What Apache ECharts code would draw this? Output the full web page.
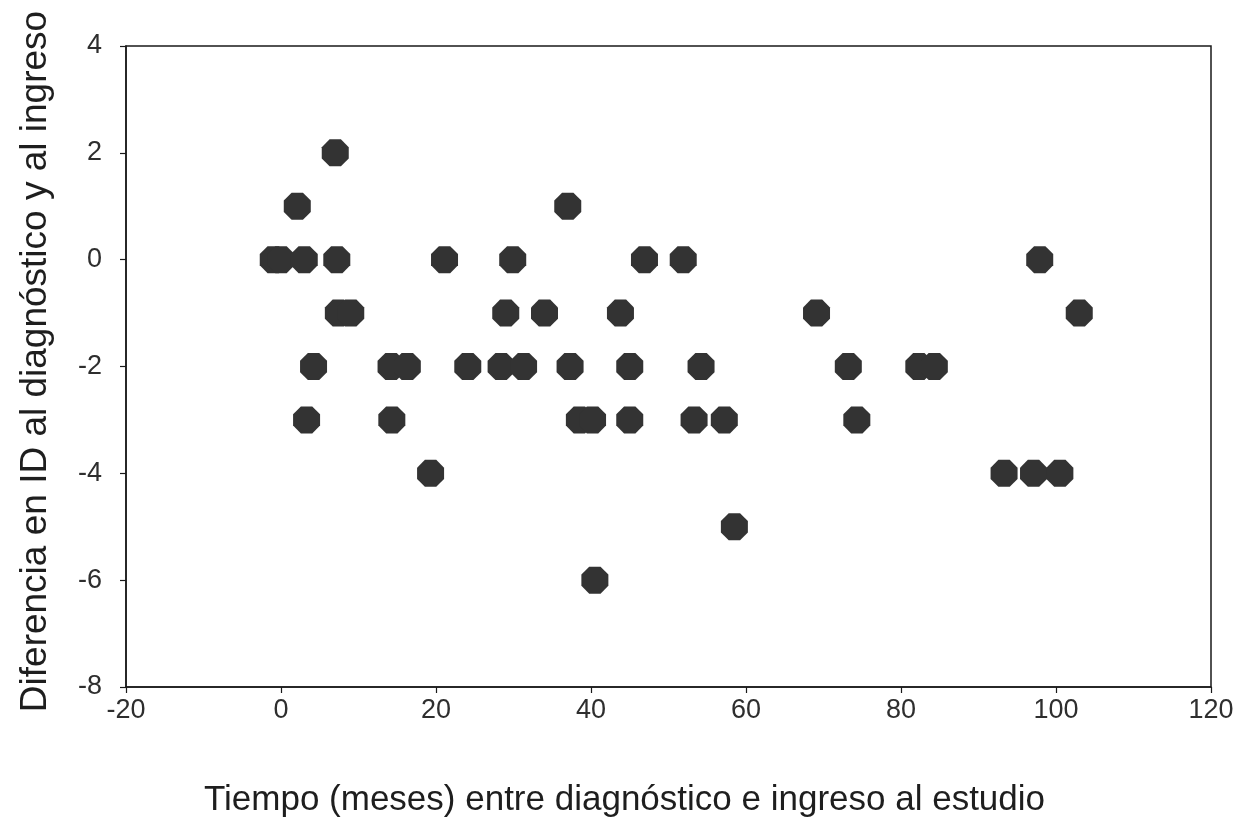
<!DOCTYPE html>
<html>
<head>
<meta charset="utf-8">
<script src="https://cdn.jsdelivr.net/npm/echarts@6/dist/echarts.min.js"></script>
<style>
  html, body { margin: 0; padding: 0; background: #ffffff; }
  #chart { width: 1246px; height: 835px; }
</style>
</head>
<body>
<div id="chart"></div>
<script>
// Months between diagnosis and study entry (x) and change in ID score (y)
const meses = [
  7.0,
  2.1, 37.0,
  -1.0, 0.0, 3.0, 7.2, 21.1, 29.9, 46.9, 51.9, 97.9,
  7.4, 9.0, 29.0, 34.0, 43.8, 69.1, 103.0,
  4.2, 14.2, 16.3, 24.1, 28.4, 31.3, 37.3, 45.0, 54.2, 73.2, 82.3, 84.3,
  3.3, 14.3, 38.5, 40.2, 45.0, 53.3, 57.2, 74.3,
  19.3, 93.3, 97.1, 100.5,
  58.5,
  40.5
];
const diferencia = [
  2,
  1, 1,
  0, 0, 0, 0, 0, 0, 0, 0, 0,
  -1, -1, -1, -1, -1, -1, -1,
  -2, -2, -2, -2, -2, -2, -2, -2, -2, -2, -2, -2,
  -3, -3, -3, -3, -3, -3, -3, -3,
  -4, -4, -4, -4,
  -5,
  -6
];
const xTicks = { min: -20, max: 120, step: 20 };
const yTicks = { min: -8, max: 4, step: 2 };

const puntos = meses.map((m, i) => [m, diferencia[i]]);

// Regular octagon marker
const octagon = 'path://M29,0 L71,0 L100,29 L100,71 L71,100 L29,100 L0,71 L0,29 Z';

const fontFamily = '"Liberation Sans", Arial, sans-serif';
const chart = echarts.init(document.getElementById('chart'), null, { renderer: 'canvas' });

chart.setOption({
  backgroundColor: '#ffffff',
  animation: false,
  grid: {
    left: 126, right: 35, top: 46, bottom: 148,
    show: true, borderColor: '#1a1a1a', borderWidth: 1.5, backgroundColor: 'transparent'
  },
  xAxis: {
    type: 'value',
    min: xTicks.min, max: xTicks.max, interval: xTicks.step,
    name: 'Tiempo (meses) entre diagnóstico e ingreso al estudio',
    nameLocation: 'middle',
    nameGap: 96,
    nameTextStyle: { fontFamily, fontSize: 35, color: '#1e1e1e', padding: [0, 88, 0, 0] },
    axisLine: { show: true, onZero: false, lineStyle: { color: '#1a1a1a', width: 1.5 } },
    axisTick: { show: true, inside: false, length: 6, lineStyle: { color: '#1a1a1a', width: 1.2 } },
    axisLabel: { fontFamily, fontSize: 27, color: '#2e2e2e', margin: 10 },
    splitLine: { show: false }
  },
  yAxis: {
    type: 'value',
    min: yTicks.min, max: yTicks.max, interval: yTicks.step,
    name: 'Diferencia en ID al diagnóstico y al ingreso',
    nameLocation: 'middle',
    nameGap: 72,
    nameTextStyle: { fontFamily, fontSize: 37, color: '#1e1e1e', padding: [0, 0, 0, 10] },
    axisLine: { show: true, onZero: false, lineStyle: { color: '#1a1a1a', width: 1.5 } },
    axisTick: { show: true, inside: false, length: 6, lineStyle: { color: '#1a1a1a', width: 1.2 } },
    axisLabel: { fontFamily, fontSize: 27, color: '#2e2e2e', margin: 24 },
    splitLine: { show: false }
  },
  series: [{
    type: 'scatter',
    data: puntos,
    symbol: octagon,
    symbolSize: 27,
    itemStyle: { color: '#333333', opacity: 1 },
    emphasis: { disabled: true }
  }]
});
</script>
</body>
</html>
